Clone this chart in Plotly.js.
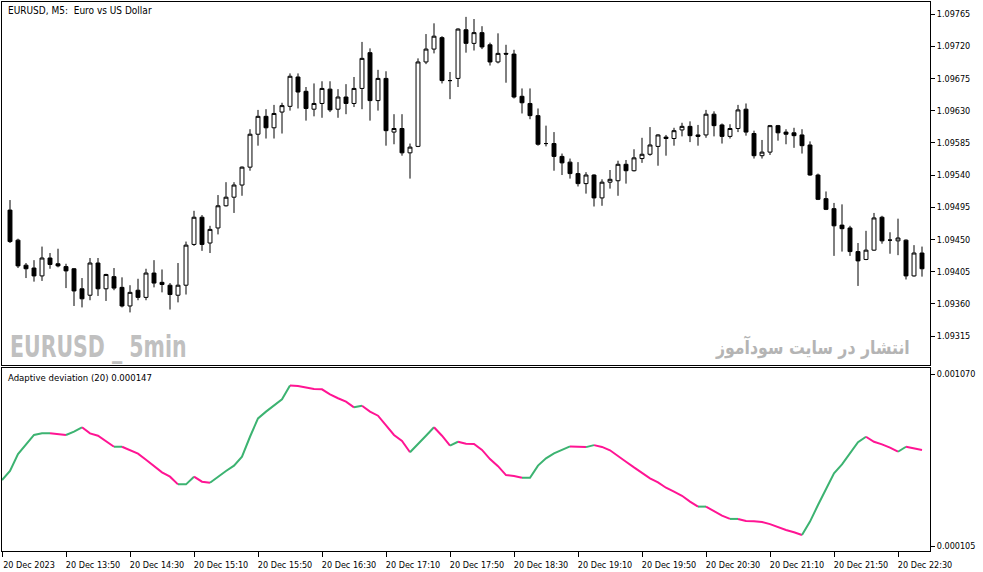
<!DOCTYPE html>
<html><head><meta charset="utf-8">
<script src="https://cdn.plot.ly/plotly-3.0.1.min.js"></script>
<style>html,body{margin:0;padding:0;background:#fff;}#chart{width:983px;height:572px;}</style>
</head><body><div id="chart"></div>
<script>
// ---- data (EURUSD M5, 20 Dec 2023) ----
const firstBar = '2023-12-20 13:15';
const barMinutes = 5;
const openP = [
1.09491,1.09449,1.09414,1.09410,1.09399,1.09424,1.09416,1.09412,1.09409,1.09381,
1.09372,1.09417,1.09381,1.09398,1.09383,1.09357,1.09379,1.09369,1.09403,1.09390,
1.09386,1.09372,1.09386,1.09443,1.09481,1.09445,1.09466,1.09497,1.09509,1.09526,
1.09551,1.09597,1.09622,1.09606,1.09628,1.09636,1.09677,1.09657,1.09632,1.09640,
1.09660,1.09632,1.09649,1.09640,1.09661,1.09711,1.09644,1.09675,1.09600,1.09605,
1.09571,1.09580,1.09698,1.09716,1.09732,1.09672,1.09675,1.09743,1.09724,1.09739,
1.09722,1.09698,1.09710,1.09709,1.09650,1.09640,1.09623,1.09584,1.09584,1.09566,
1.09558,1.09542,1.09528,1.09540,1.09508,1.09530,1.09532,1.09555,1.09546,1.09563,
1.09569,1.09580,1.09593,1.09591,1.09603,1.09608,1.09596,1.09596,1.09625,1.09610,
1.09594,1.09605,1.09632,1.09598,1.09567,1.09572,1.09609,1.09600,1.09599,1.09596,
1.09582,1.09540,1.09507,1.09493,1.09470,1.09466,1.09433,1.09422,1.09435,1.09481,
1.09449,1.09448,1.09449,1.09399,1.09431];
const highP = [
1.09505,1.09451,1.09417,1.09421,1.09440,1.09431,1.09437,1.09416,1.09410,1.09396,
1.09424,1.09424,1.09402,1.09410,1.09397,1.09386,1.09395,1.09409,1.09421,1.09408,
1.09389,1.09417,1.09447,1.09490,1.09484,1.09469,1.09512,1.09530,1.09530,1.09552,
1.09604,1.09631,1.09632,1.09638,1.09641,1.09682,1.09682,1.09663,1.09668,1.09671,
1.09671,1.09660,1.09667,1.09677,1.09726,1.09717,1.09687,1.09685,1.09625,1.09625,
1.09584,1.09703,1.09737,1.09752,1.09734,1.09684,1.09745,1.09761,1.09758,1.09748,
1.09725,1.09738,1.09722,1.09715,1.09661,1.09661,1.09633,1.09609,1.09600,1.09570,
1.09563,1.09558,1.09544,1.09541,1.09534,1.09547,1.09560,1.09561,1.09576,1.09592,
1.09607,1.09597,1.09596,1.09606,1.09613,1.09615,1.09610,1.09631,1.09629,1.09612,
1.09611,1.09638,1.09640,1.09602,1.09589,1.09610,1.09610,1.09604,1.09606,1.09604,
1.09587,1.09542,1.09517,1.09501,1.09499,1.09469,1.09445,1.09462,1.09487,1.09483,
1.09460,1.09479,1.09450,1.09442,1.09440];
const lowP = [
1.09445,1.09410,1.09396,1.09391,1.09392,1.09409,1.09411,1.09382,1.09357,1.09355,
1.09365,1.09371,1.09364,1.09379,1.09355,1.09348,1.09365,1.09365,1.09383,1.09376,
1.09352,1.09362,1.09373,1.09441,1.09434,1.09431,1.09457,1.09496,1.09487,1.09511,
1.09546,1.09581,1.09591,1.09591,1.09598,1.09630,1.09633,1.09616,1.09622,1.09620,
1.09628,1.09620,1.09625,1.09635,1.09632,1.09616,1.09630,1.09581,1.09583,1.09567,
1.09535,1.09579,1.09695,1.09710,1.09668,1.09646,1.09663,1.09711,1.09714,1.09716,
1.09693,1.09696,1.09669,1.09647,1.09626,1.09618,1.09581,1.09580,1.09546,1.09540,
1.09535,1.09524,1.09514,1.09496,1.09497,1.09521,1.09511,1.09528,1.09545,1.09557,
1.09567,1.09553,1.09567,1.09581,1.09594,1.09586,1.09581,1.09592,1.09594,1.09584,
1.09591,1.09600,1.09595,1.09563,1.09563,1.09568,1.09588,1.09583,1.09578,1.09570,
1.09539,1.09505,1.09491,1.09427,1.09433,1.09427,1.09385,1.09421,1.09434,1.09444,
1.09430,1.09428,1.09394,1.09398,1.09398];
const closeP = [
1.09447,1.09413,1.09409,1.09399,1.09424,1.09415,1.09413,1.09406,1.09378,1.09367,
1.09417,1.09381,1.09401,1.09382,1.09357,1.09376,1.09369,1.09403,1.09389,1.09387,
1.09373,1.09386,1.09442,1.09481,1.09443,1.09464,1.09497,1.09509,1.09526,1.09551,
1.09597,1.09622,1.09606,1.09626,1.09637,1.09678,1.09656,1.09633,1.09640,1.09661,
1.09631,1.09649,1.09640,1.09661,1.09703,1.09644,1.09675,1.09602,1.09605,1.09571,
1.09579,1.09698,1.09716,1.09734,1.09672,1.09672,1.09744,1.09724,1.09739,1.09719,
1.09698,1.09710,1.09709,1.09649,1.09641,1.09623,1.09583,1.09584,1.09566,1.09557,
1.09542,1.09528,1.09540,1.09508,1.09530,1.09534,1.09555,1.09546,1.09564,1.09569,
1.09582,1.09596,1.09591,1.09602,1.09608,1.09595,1.09594,1.09625,1.09609,1.09594,
1.09605,1.09631,1.09600,1.09567,1.09572,1.09609,1.09599,1.09597,1.09595,1.09581,
1.09540,1.09506,1.09492,1.09469,1.09465,1.09433,1.09420,1.09435,1.09480,1.09448,
1.09449,1.09452,1.09399,1.09431,1.09409];
// Adaptive deviation (20): first value belongs to the 13:10 bar
const devFirstBar = '2023-12-20 13:10';
const deviation = [0.000475,
0.000526,0.000621,0.000675,0.000728,0.000737,0.000737,0.000732,0.000728,0.000747,0.000771,
0.000737,0.000724,0.000694,0.000662,0.000662,0.000642,0.000623,0.000589,0.000556,0.000518,
0.000494,0.000451,0.000451,0.000494,0.000466,0.000460,0.000494,0.000526,0.000556,0.000606,
0.000718,0.000821,0.000859,0.000896,0.000928,0.001005,0.001003,0.000994,0.000986,0.000984,
0.000956,0.000934,0.000915,0.000883,0.000892,0.000859,0.000836,0.000784,0.000728,0.000694,
0.000631,0.000675,0.000724,0.000771,0.000724,0.000668,0.000690,0.000679,0.000677,0.000644,
0.000593,0.000553,0.000503,0.000498,0.000488,0.000488,0.000556,0.000597,0.000625,0.000644,
0.000664,0.000662,0.000660,0.000671,0.000661,0.000642,0.000612,0.000578,0.000546,0.000513,
0.000485,0.000462,0.000432,0.000410,0.000387,0.000354,0.000326,0.000326,0.000301,0.000275,
0.000257,0.000257,0.000245,0.000244,0.000240,0.000228,0.000210,0.000195,0.000182,0.000167,
0.000242,0.000335,0.000425,0.000513,0.000563,0.000625,0.000687,0.000718,0.000690,0.000675,
0.000657,0.000634,0.000662,0.000653,0.000644];
const priceTicks = [1.09315,1.09360,1.09405,1.09450,1.09495,1.09540,1.09585,1.09630,1.09675,1.09720,1.09765];
const devTicks = [0.000105,0.001070];
const timeTickVals = ['2023-12-20 13:10','2023-12-20 13:50','2023-12-20 14:30','2023-12-20 15:10','2023-12-20 15:50',
 '2023-12-20 16:30','2023-12-20 17:10','2023-12-20 17:50','2023-12-20 18:30','2023-12-20 19:10','2023-12-20 19:50',
 '2023-12-20 20:30','2023-12-20 21:10','2023-12-20 21:50','2023-12-20 22:30'];
const timeTickText = ['20 Dec 2023','20 Dec 13:50','20 Dec 14:30','20 Dec 15:10','20 Dec 15:50','20 Dec 16:30',
 '20 Dec 17:10','20 Dec 17:50','20 Dec 18:30','20 Dec 19:10','20 Dec 19:50','20 Dec 20:30','20 Dec 21:10',
 '20 Dec 21:50','20 Dec 22:30'];
const xRange = ['2023-12-20 13:10','2023-12-20 22:50'];

// ---- helpers ----
function barTimes(start, n) {
  const out = [];
  const base = new Date(start.replace(' ', 'T') + ':00Z').getTime();
  for (let k = 0; k < n; k++) {
    const d = new Date(base + k * barMinutes * 60000);
    out.push(d.toISOString().slice(0, 16).replace('T', ' '));
  }
  return out;
}
const times = barTimes(firstBar, closeP.length);
const devTimes = barTimes(devFirstBar, deviation.length);

const GREEN = '#3cb371', PINK = '#ff1493';
const FONT = 'DejaVu Sans Condensed, DejaVu Sans, sans-serif';

const traces = [{
  type: 'candlestick', x: times, open: openP, high: highP, low: lowP, close: closeP,
  xaxis: 'x', yaxis: 'y', whiskerwidth: 0,
  increasing: {line: {color: '#000', width: 1}, fillcolor: '#ffffff'},
  decreasing: {line: {color: '#000', width: 1}, fillcolor: '#000000'},
  hoverinfo: 'skip', showlegend: false
}];

// coloured line: green where the value rises (or holds), pink where it falls
let runStart = 0, runColor = null;
function pushRun(a, b, color) {
  traces.push({type: 'scatter', mode: 'lines', x: devTimes.slice(a, b + 1), y: deviation.slice(a, b + 1),
    xaxis: 'x2', yaxis: 'y2', line: {color: color, width: 2}, hoverinfo: 'skip', showlegend: false});
}
for (let i = 1; i < deviation.length; i++) {
  const c = deviation[i] >= deviation[i - 1] ? GREEN : PINK;
  if (runColor === null) { runColor = c; runStart = i - 1; }
  else if (c !== runColor) { pushRun(runStart, i - 1, runColor); runColor = c; runStart = i - 1; }
}
pushRun(runStart, deviation.length - 1, runColor);

const axisCommon = {showgrid: false, zeroline: false, showline: true, mirror: true, linecolor: '#000', linewidth: 1,
  tickfont: {family: FONT, size: 9, color: '#000'}, tickcolor: '#000'};

const layout = {
  width: 983, height: 572,
  margin: {l: 2, r: 53, t: 2, b: 21, pad: 0},
  paper_bgcolor: '#fff', plot_bgcolor: '#fff',
  showlegend: false,
  xaxis: Object.assign({}, axisCommon, {type: 'date', range: xRange, anchor: 'y', domain: [0, 1],
    showticklabels: false, ticks: '', rangeslider: {visible: false}}),
  yaxis: Object.assign({}, axisCommon, {domain: [0.3388, 1], anchor: 'x', side: 'right',
    range: [1.092745, 1.097818], tickmode: 'array', tickvals: priceTicks,
    ticktext: priceTicks.map(v => v.toFixed(5)), ticks: 'outside', ticklen: 4}),
  xaxis2: Object.assign({}, axisCommon, {type: 'date', range: xRange, anchor: 'y2', domain: [0, 1],
    tickmode: 'array', tickvals: timeTickVals, ticktext: timeTickText, ticks: 'outside', ticklen: 5,
    ticklabelshift: 27, ticklabelstandoff: 0}),
  yaxis2: Object.assign({}, axisCommon, {domain: [0, 0.3333], anchor: 'x2', side: 'right',
    range: [0.0000770, 0.0011037], tickmode: 'array', tickvals: devTicks,
    ticktext: devTicks.map(v => v.toFixed(6)), ticks: 'outside', ticklen: 4}),
  annotations: [
    {xref: 'paper', yref: 'paper', x: 0.0043, y: 0.998, xanchor: 'left', yanchor: 'top', showarrow: false,
     text: 'EURUSD, M5:  Euro vs US Dollar', font: {family: FONT, size: 10, color: '#000'}},
    {xref: 'paper', yref: 'paper', x: 0.0043, y: 0.3297, xanchor: 'left', yanchor: 'top', showarrow: false,
     text: 'Adaptive deviation (20) 0.000147', font: {family: FONT, size: 9.5, color: '#000'}},
    {xref: 'paper', yref: 'paper', x: 0.0065, y: 0.3734, xanchor: 'left', yanchor: 'middle', showarrow: false,
     text: '<b>EURUSD _ 5min</b>', font: {family: 'DejaVu Sans Condensed, sans-serif', size: 31, color: '#c0c0c0'}},
    {xref: 'paper', yref: 'paper', x: 0.9806, y: 0.3716, xanchor: 'right', yanchor: 'middle', showarrow: false,
     text: '<b>انتشار در سایت سودآموز</b>', font: {family: 'DejaVu Sans, sans-serif', size: 19, color: '#b4b4b4'}}
  ]
};

// condense the two watermark texts horizontally (the original uses a narrow face)
function squeeze(g, s, anchor) {
  if (!g) return;
  const t = g.querySelector('text');
  if (!t) return;
  const bb = t.getBBox();
  const x0 = anchor === 'left' ? bb.x : bb.x + bb.width;
  t.setAttribute('transform', 'translate(' + x0 + ',0) scale(' + s + ',1) translate(' + (-x0) + ',0)');
}

Plotly.newPlot('chart', traces, layout, {staticPlot: true, displayModeBar: false}).then(function (gd) {
  const anns = gd.querySelectorAll('.annotation');
  squeeze(anns[2], 0.735, 'left');
  squeeze(anns[3], 0.83, 'right');
});
</script>
</body></html>
